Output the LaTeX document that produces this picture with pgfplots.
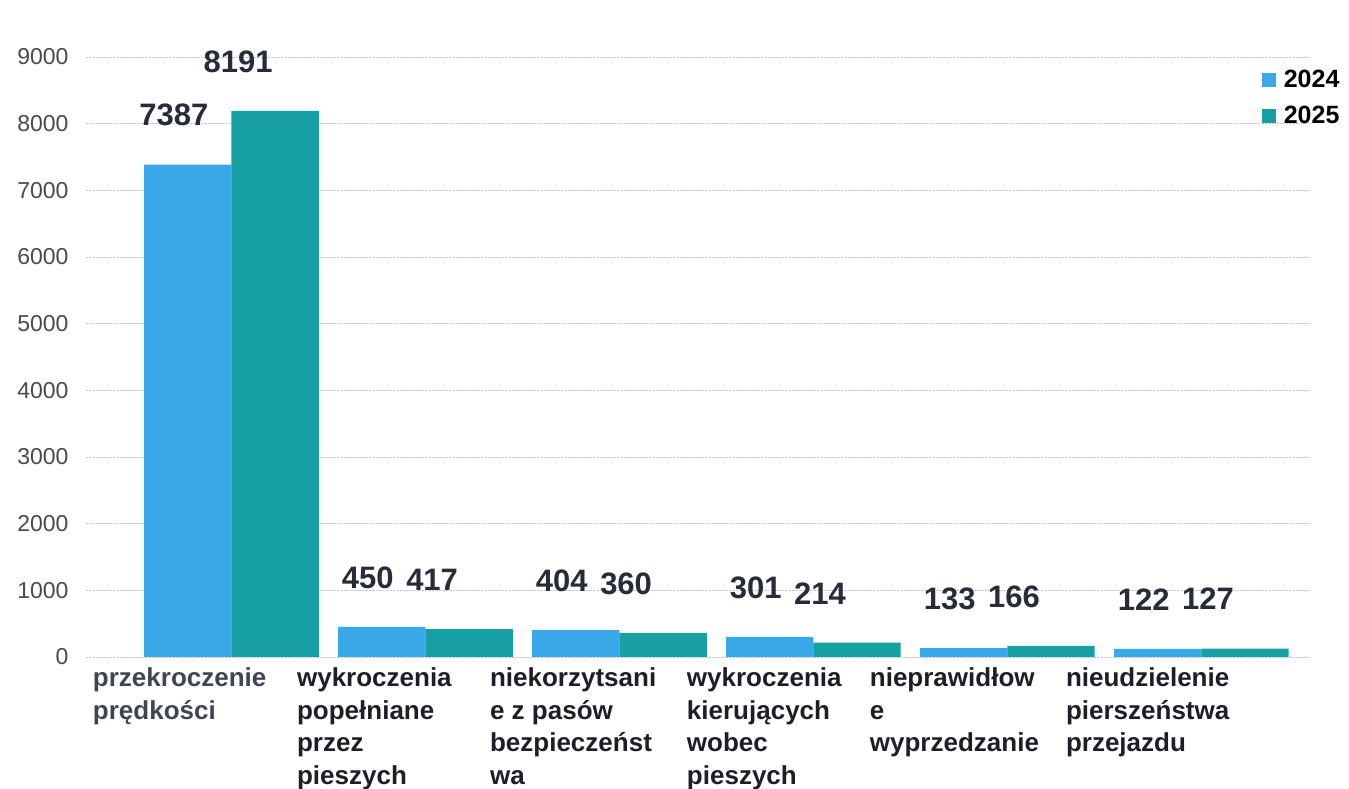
\documentclass[border=0pt]{standalone}
\usepackage{fontspec}
\setmainfont{Liberation Sans}
\usepackage{pgfplots}
\pgfplotsset{compat=1.18}
\definecolor{c24}{HTML}{38A8E8}
\definecolor{c25}{HTML}{16A0A4}
\definecolor{gridc}{HTML}{C4CAD0}
\definecolor{tickc}{HTML}{4A4A4A}
\definecolor{labc}{HTML}{1E1E28}
\definecolor{lab0}{HTML}{3E4656}
\definecolor{valc}{HTML}{262C3A}
\begin{document}
\begin{tikzpicture}
\begin{axis}[
  scale only axis, width=1224pt, height=600pt,
  xmin=-0.75, xmax=5.56, ymin=0, ymax=9000,
  ybar, bar width=0.45,
  axis line style={draw=none}, tick style={draw=none},
  ytick={0,1000,...,9000},
  ymajorgrids, grid style={gridc, densely dotted, line width=0.8pt},
  /pgf/number format/1000 sep={},
  /pgf/number format/assume math mode=true,
  scaled y ticks=false,
  yticklabel style={font=\fontsize{23}{23}\selectfont, text=tickc, xshift=-14pt},
  xtick={-0.062,0.99,1.985,3,3.943,4.954},
  xticklabels={
    {\textcolor{lab0}{przekroczenie}\\\textcolor{lab0}{prędkości}},
    {wykroczenia\\popełniane\\przez\\pieszych},
    {niekorzytsani\\e z pasów\\bezpieczeńst\\wa},
    {wykroczenia\\kierujących\\wobec\\pieszych},
    {nieprawidłow\\e\\wyprzedzanie},
    {nieudzielenie\\pierszeństwa\\przejazdu}},
  xticklabel style={font=\fontsize{26}{32.5}\selectfont\bfseries, text=labc,
    align=left, anchor=north west, xshift=-130pt, yshift=-3pt},
  nodes near coords,
  every node near coord/.append style={font=\fontsize{31}{31}\selectfont\bfseries,
    text=valc, anchor=south, yshift=35pt},
  legend image code/.code={\path[#1,draw=none] (0pt,-7pt) rectangle (14pt,7pt);},
  legend style={draw=none, fill=none, font=\fontsize{25}{25}\selectfont\bfseries,
    at={(rel axis cs:0.958,0.985)}, anchor=north west, row sep=13pt, column sep=6pt},
]
\addplot[fill=c24, draw=none, bar shift=-0.225,
  every node near coord/.append style={xshift=-14pt}]
  coordinates {(0,7387) (1,450) (2,404) (3,301) (4,133) (5,122)};
\addplot[fill=c25, draw=none, bar shift=0.225,
  every node near coord/.append style={xshift=-37pt}]
  coordinates {(0,8191) (1,417) (2,360) (3,214) (4,166) (5,127)};
\legend{2024,2025}
\end{axis}
\pgfresetboundingbox
\path (-86pt,-132pt) rectangle (1263pt,657pt);
\end{tikzpicture}
\end{document}
